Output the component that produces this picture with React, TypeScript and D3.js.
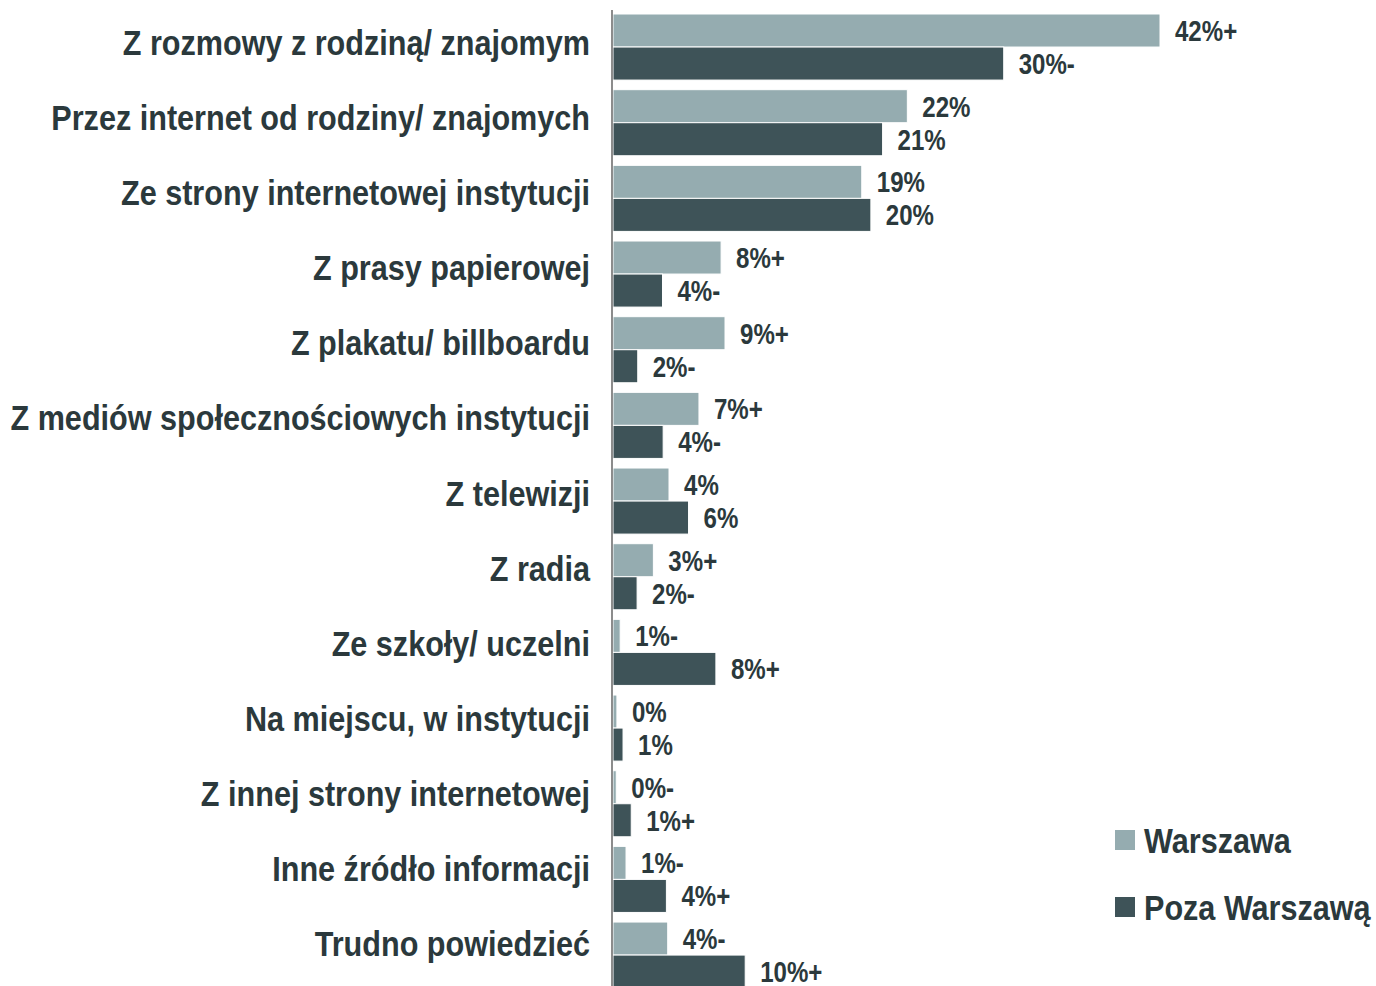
import * as React from 'react';
import { scaleLinear, scaleBand, scalePoint } from 'd3';

const categories = [
  'Z rozmowy z rodziną/ znajomym',
  'Przez internet od rodziny/ znajomych',
  'Ze strony internetowej instytucji',
  'Z prasy papierowej',
  'Z plakatu/ billboardu',
  'Z mediów społecznościowych instytucji',
  'Z telewizji',
  'Z radia',
  'Ze szkoły/ uczelni',
  'Na miejscu, w instytucji',
  'Z innej strony internetowej',
  'Inne źródło informacji',
  'Trudno powiedzieć',
];

const warszawa = [42, 22.6, 19.1, 8.3, 8.6, 6.6, 4.3, 3.1, 0.55, 0.3, 0.25, 1.0, 4.2];
const poza = [30, 20.7, 19.8, 3.8, 1.9, 3.85, 5.8, 1.85, 7.9, 0.77, 1.4, 4.1, 10.15];

const warszawaLabels = ['42%+', '22%', '19%', '8%+', '9%+', '7%+', '4%', '3%+', '1%-', '0%', '0%-', '1%-', '4%-'];
const pozaLabels = ['30%-', '21%', '20%', '4%-', '2%-', '4%-', '6%', '2%-', '8%+', '1%', '1%+', '4%+', '10%+'];

const series = [
  { name: 'Warszawa', values: warszawa, labels: warszawaLabels, color: '#95acb0' },
  { name: 'Poza Warszawą', values: poza, labels: pozaLabels, color: '#3e5358' },
];

// no narrow font installed, so squeeze Liberation Sans horizontally
const FONT = '"Liberation Sans", Arial, sans-serif';
const TEXT = '#2b393c';

function NarrowText({ x, y, size, sq = 0.85, anchor = 'start', children }: { x: number; y: number; size: number; sq?: number; anchor?: string; children: React.ReactNode }) {
  return (
    <g transform={`translate(${x},${y}) scale(${sq},1)`}>
      <text x={0} y={0} fontSize={size} textAnchor={anchor} fill={TEXT}>{children}</text>
    </g>
  );
}

export default function App() {
  const width = 1376;
  const height = 986;
  const x0 = 613;

  const x = scaleLinear().domain([0, 42]).range([x0, 1160]);
  const y = scaleBand<string>()
    .domain(categories)
    .range([14 - 4.8, 14 - 4.8 + 75.67 * 13])
    .paddingInner(0.127)
    .paddingOuter(0.0635);
  const inner = scaleBand<string>().domain(series.map(s => s.name)).range([0, y.bandwidth()]);
  // category label baselines (they sit on a slightly tighter pitch than the bars)
  const yLabel = scalePoint<string>().domain(categories).range([55, 956]);

  return (
    <svg width={width} height={height} style={{ position: 'absolute', left: 0, top: 0 }} fontFamily={FONT} fontWeight="bold">
      {series.map(s =>
        categories.map((c, i) => {
          const yy = (y(c) ?? 0) + (inner(s.name) ?? 0);
          const bh = inner.bandwidth();
          return (
            <g key={s.name + i}>
              <rect x={x0} y={yy} width={x(s.values[i]) - x0} height={bh} fill={s.color} stroke="#fff" strokeWidth={1} />
              <NarrowText x={x(s.values[i]) + 15} y={yy + bh / 2 + 10.5} size={29} sq={0.83}>
                {s.labels[i]}
              </NarrowText>
            </g>
          );
        })
      )}
      <line x1={612} x2={612} y1={10} y2={height} stroke="#8c8c8c" strokeWidth={2} />
      {categories.map(c => (
        <NarrowText key={c} x={590} y={yLabel(c) ?? 0} size={36} anchor="end">
          {c}
        </NarrowText>
      ))}
      {series.map((s, i) => (
        <g key={s.name} transform={`translate(1115, ${830 + i * 67})`}>
          <rect x={0} y={0} width={20} height={20} fill={s.color} />
          <NarrowText x={29} y={23} size={36}>{s.name}</NarrowText>
        </g>
      ))}
    </svg>
  );
}
